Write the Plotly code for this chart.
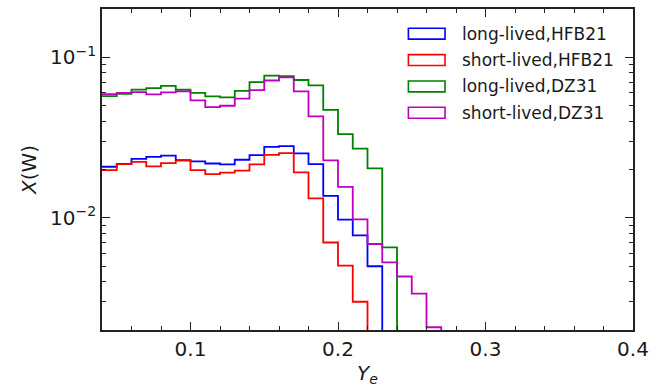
import numpy as np
import plotly.graph_objects as go

# Bin left edges (Y_e), bin width 0.01
bin_edges = [0.04, 0.05, 0.06, 0.07, 0.08, 0.09, 0.10, 0.11, 0.12, 0.13,
             0.14, 0.15, 0.16, 0.17, 0.18, 0.19, 0.20, 0.21, 0.22, 0.23,
             0.24, 0.25, 0.26, 0.27, 0.28, 0.29]

long_hfb21 = [0.0208, 0.0217, 0.0233, 0.0240, 0.0244, 0.0229, 0.0225, 0.0218,
              0.0215, 0.0230, 0.0246, 0.0277, 0.0280, 0.0252, 0.0216, 0.0137,
              0.00975, 0.00778, 0.00499, 0, 0, 0, 0, 0, 0]
short_hfb21 = [0.0198, 0.0216, 0.0223, 0.0209, 0.0219, 0.0227, 0.0198, 0.0187,
               0.0191, 0.0197, 0.0215, 0.0247, 0.0253, 0.0192, 0.0132, 0.00702,
               0.00504, 0.00300, 0, 0, 0, 0, 0, 0, 0]
long_dz31 = [0.0573, 0.0593, 0.0629, 0.0643, 0.0663, 0.0628, 0.0600, 0.0571,
             0.0563, 0.0617, 0.0700, 0.0770, 0.0762, 0.0722, 0.0668, 0.0471,
             0.0332, 0.0270, 0.0203, 0.00654, 0, 0, 0, 0, 0]
short_dz31 = [0.0590, 0.0600, 0.0607, 0.0587, 0.0605, 0.0613, 0.0539, 0.0490,
              0.0499, 0.0553, 0.0625, 0.0717, 0.0751, 0.0613, 0.0428, 0.0228,
              0.0156, 0.00979, 0.00687, 0.00528, 0.00431, 0.00337, 0.00208, 0, 0]

series_names = ["long-lived,HFB21", "short-lived,HFB21", "long-lived,DZ31", "short-lived,DZ31"]
series_values = [long_hfb21, short_hfb21, long_dz31, short_dz31]
series_colors = ["#0000ff", "#ff0000", "#008000", "#bf00bf"]

x_ticks = [0.1, 0.2, 0.3, 0.4]
x_ticktext = ["0.1", "0.2", "0.3", "0.4"]
y_ticks = [0.01, 0.1]
y_ticktext = ["10<sup>−2</sup>", "10<sup>−1</sup>"]

FLOOR = 1e-4  # zero-count bins drawn below the visible range (clipped)
FONT = "DejaVu Sans"

fig = go.Figure()
for name, vals, col in zip(series_names, series_values, series_colors):
    y = [v if v > 0 else FLOOR for v in vals]
    y = y + [y[-1]]
    fig.add_trace(go.Scatter(
        x=bin_edges, y=y, mode="lines", name=name,
        line=dict(color=col, width=1.8, shape="hv"),
        showlegend=False, hoverinfo="skip"))

# Legend drawn as outlined rectangles + text (matplotlib style)
leg_x0, leg_x1, leg_txt_x = 0.577, 0.646, 0.674
leg_top, leg_h, leg_step = 0.940, 0.034, 0.0821
shapes = []
annotations = []
for i, (name, col) in enumerate(zip(series_names, series_colors)):
    yt = leg_top - i * leg_step
    shapes.append(dict(type="rect", xref="x domain", yref="y domain",
                       x0=leg_x0, x1=leg_x1, y0=yt - leg_h, y1=yt,
                       line=dict(color=col, width=1.6), fillcolor="rgba(0,0,0,0)"))
    annotations.append(dict(xref="x domain", yref="y domain", x=leg_txt_x,
                            y=yt - leg_h / 2, text=name, showarrow=False,
                            xanchor="left", yanchor="middle",
                            font=dict(family=FONT, size=17, color="#1a1a1a")))

fig.update_layout(
    width=666, height=390,
    margin=dict(l=102, r=33, t=7, b=60),
    paper_bgcolor="white", plot_bgcolor="white",
    font=dict(family=FONT, color="#1a1a1a"),
    shapes=shapes, annotations=annotations,
    showlegend=False,
)
fig.update_xaxes(
    range=[0.04, 0.4], tickvals=x_ticks, ticktext=x_ticktext,
    ticks="inside", ticklen=8, tickwidth=1.2, tickcolor="#222",
    showline=True, linecolor="#222", linewidth=1.8, mirror="ticks",
    showgrid=False, zeroline=False,
    tickfont=dict(family=FONT, size=20, color="#1a1a1a"),
    minor=dict(ticks="inside", ticklen=4, tickwidth=1, tickcolor="#222",
               dtick=0.02, tick0=0, showgrid=False),
    title=dict(text="<i>Y</i><sub><i>e</i></sub>", standoff=6,
               font=dict(family=FONT, size=20, color="#1a1a1a")),
)
fig.update_yaxes(
    type="log", range=[np.log10(0.002), np.log10(0.2)],
    tickvals=y_ticks, ticktext=y_ticktext,
    ticks="inside", ticklen=8, tickwidth=1.2, tickcolor="#222",
    showline=True, linecolor="#222", linewidth=1.8, mirror="ticks",
    showgrid=False, zeroline=False,
    tickfont=dict(family=FONT, size=20, color="#1a1a1a"),
    minor=dict(ticks="inside", ticklen=4, tickwidth=1, tickcolor="#222",
               dtick="D1", showgrid=False),
    title=dict(text="<i>X</i>(W)", standoff=8,
               font=dict(family=FONT, size=20, color="#1a1a1a")),
)

fig.write_html("out.html")
